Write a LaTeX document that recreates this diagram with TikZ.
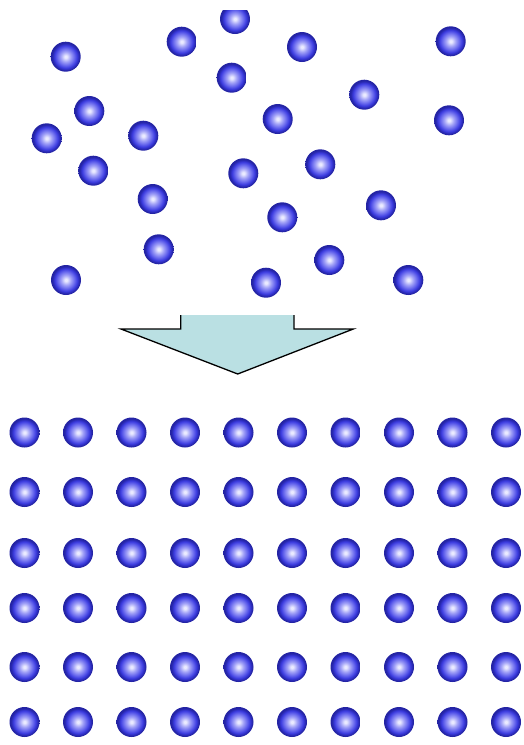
\documentclass[tikz,border=0pt]{standalone}
\definecolor{ballcore} {HTML}{EAEAFF}
\definecolor{balllight}{HTML}{A4A4F7}
\definecolor{ballmid}  {HTML}{6A6AEE}
\definecolor{ballblue} {HTML}{3A3ADE}
\definecolor{ballrim}  {HTML}{2424A4}
\definecolor{arrowfill}{HTML}{BAE0E3}
\pgfdeclareradialshading{ballshade}{\pgfpoint{0bp}{0bp}}{%
  color(0bp)=(ballcore); color(2bp)=(ballcore); color(8bp)=(balllight);
  color(14bp)=(ballmid); color(19bp)=(ballblue); color(23bp)=(ballrim);
  color(50bp)=(ballrim)}

\begin{document}
\begin{tikzpicture}[
  x=1pt, y=-1pt,
  ball/.style={circle, minimum size=30pt, inner sep=0pt, shading=ballshade},
  outline/.style={draw=black, line width=1.3pt, line join=miter},
]
  \useasboundingbox (0,0) rectangle (523,745);

  % --- top: scattered particles ---------------------------------
  \begin{scope}
    \clip (0,10) rectangle (523,300);
    \foreach \x/\y [count=\i] in {65.7/56.7, 181.7/41.7, 235/19, 302/47,
        450.7/41.3, 231.7/77.7, 364.3/94.7, 89.3/111, 277.7/119, 449/120.3,
        46.7/138.3, 143.3/135.7, 93.3/170.7, 243.3/173.3, 320.3/164.3,
        152.7/199, 381/205.3, 282.3/217.3, 158.7/249.3, 329.3/260,
        66/280, 266/282.7, 408.3/280}
      \node[ball] (s\i) at (\x,\y) {};
  \end{scope}

  % --- block arrow (open at the top) -----------------------------
  \fill[arrowfill] (180.7,315) -- (180.7,329) -- (121,329) -- (237.7,374)
    -- (353.3,329) -- (294,329) -- (294,315) -- cycle;
  \draw[outline] (180.7,315) -- (180.7,329) -- (121,329) -- (237.7,374)
    -- (353.3,329) -- (294,329) -- (294,315);

  % --- bottom: ordered lattice, 6 rows x 10 columns --------------
  \foreach \y [count=\r] in {432.5, 492, 553, 608, 667, 722}
    \foreach \c in {0,...,9}
      \node[ball] (g\r-\c) at (24.5+53.5*\c,\y) {};
\end{tikzpicture}
\end{document}
